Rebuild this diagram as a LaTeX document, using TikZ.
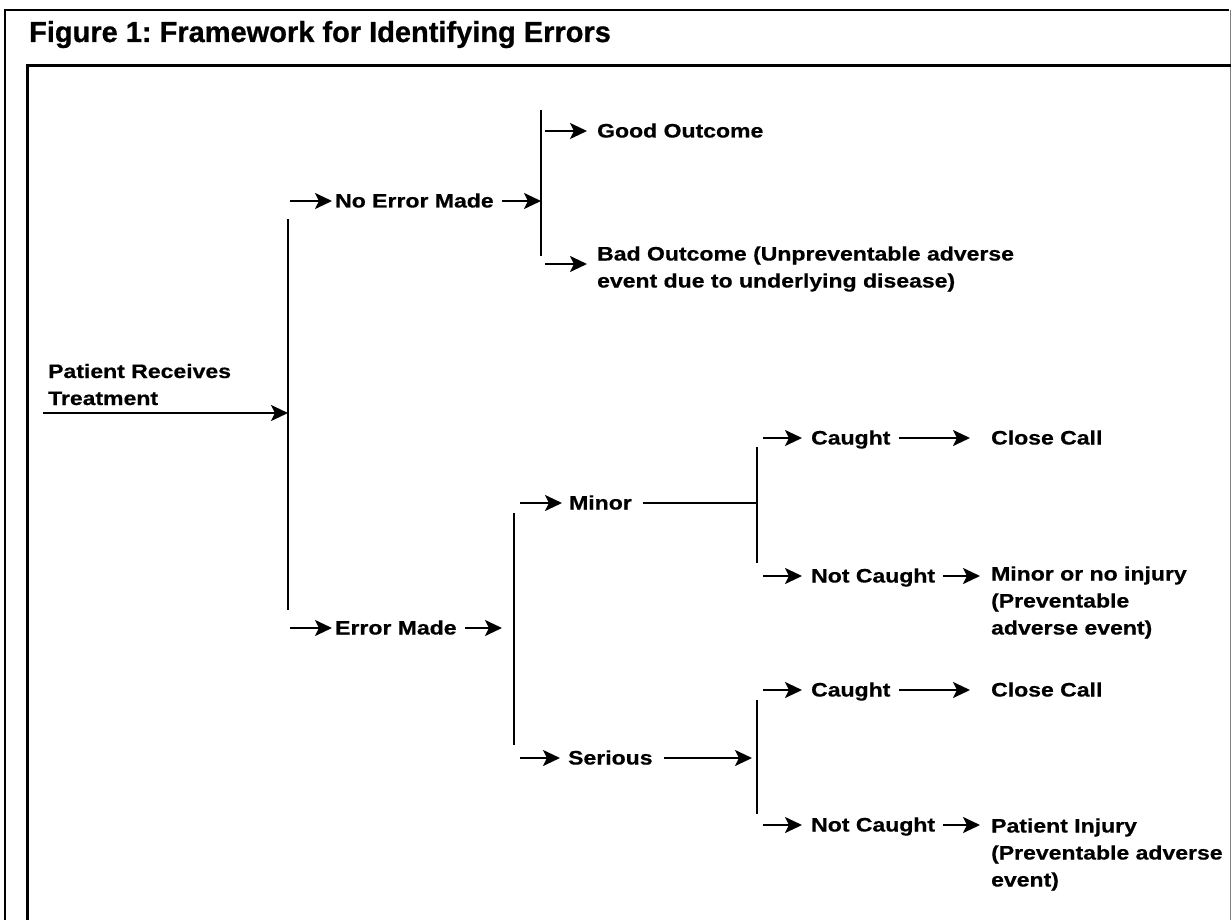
\documentclass[tikz,border=0pt]{standalone}
\usepackage{fontspec}
\setmainfont{Liberation Sans}
\newfontfamily\lblfont[FakeStretch=1.18,FakeBold=0.6]{Liberation Sans}
\newfontfamily\ttlfont[FakeBold=0.8]{Liberation Sans}
\usetikzlibrary{arrows.meta}
\newcommand\rows[1]{\begin{tabular}[t]{@{}l@{}}#1\end{tabular}}
\frenchspacing
\begin{document}
\begin{tikzpicture}[>={Stealth[length=17pt,width=16pt,inset=4pt]},x=1pt,y=-1pt,line width=2.3pt,
		lbl/.style={font=\lblfont\bfseries\fontsize{19.5}{27}\selectfont,inner sep=0pt,text height=13pt,text depth=0pt,anchor=west}]
		\useasboundingbox (0,0) rectangle (1231,920);
		\draw[line width=2.5pt] (5,930) -- (5,10) -- (1229,10);
		\draw[gray,line width=1pt] (1230,10) -- (1230,930);
		\draw[line width=3pt] (27,930) -- (27,65.5) -- (1240,65.5);
		\node[anchor=base west,inner sep=0pt,font=\ttlfont\bfseries\fontsize{29}{35}\selectfont] (title) at (28,42) {Figure 1: Framework for Identifying Errors};
		\coordinate (b1t) at (288,219); \coordinate (b1b) at (288,610);
		\coordinate (b2t) at (541,110); \coordinate (b2b) at (541,256);
		\coordinate (b3t) at (514,513); \coordinate (b3b) at (514,745);
		\coordinate (b4t) at (757,447); \coordinate (b4b) at (757,563);
		\coordinate (b5t) at (757,700); \coordinate (b5b) at (757,814);
		\draw (b1t)--(b1b) (b2t)--(b2b) (b3t)--(b3b) (b4t)--(b4b) (b5t)--(b5b);
		\node[lbl,anchor=base west] (root) at (47,378) {\rows{Patient Receives\\Treatment}};
		\coordinate (rootin) at (43,413);
		\draw[->] (rootin) -- (rootin -| b1t);
		\node[lbl] (noerr) at (334,201) {No Error Made};
		\draw[->,shorten <=2pt,shorten >=2pt] (noerr.west -| b1t) -- (noerr.west);
		\draw[->,shorten <=7pt] (noerr.east) -- (noerr.east -| b2t);
		\node[lbl] (good) at (596,131) {Good Outcome};
		\draw[->,shorten <=4pt,shorten >=9pt] (good.west -| b2t) -- (good.west);
		\node[lbl] (bad) at (596,254) {\rows{Bad Outcome (Unpreventable adverse\\event due to underlying disease)}};
		\coordinate (badin) at (541,264);
		\draw[->,shorten <=4pt,shorten >=9pt] (badin) -- (badin -| bad.west);
		\node[lbl] (err) at (334,628) {Error Made};
		\draw[->,shorten <=2pt,shorten >=2pt] (err.west -| b1b) -- (err.west);
		\draw[->,shorten <=7pt,shorten >=12pt] (err.east) -- (err.east -| b3t);
		\node[lbl] (minor) at (568,503) {Minor};
		\draw[->,shorten <=6pt,shorten >=6pt] (minor.west -| b3t) -- (minor.west);
		\draw[shorten <=10pt] (minor.east) -- (minor.east -| b4t);
		\node[lbl] (serious) at (567,758) {Serious};
		\draw[->,shorten <=6pt,shorten >=7pt] (serious.west -| b3b) -- (serious.west);
		\draw[->,shorten <=10pt,shorten >=5pt] (serious.east) -- (serious.east -| b5t);
		\node[lbl] (caught1) at (810,438) {Caught};
		\node[lbl] (close1) at (990,438) {Close Call};
		\draw[->,shorten <=6pt,shorten >=8pt] (caught1.west -| b4t) -- (caught1.west);
		\draw[->,shorten <=7pt,shorten >=20pt] (caught1.east) -- (close1.west);
		\node[lbl] (notc1) at (810,576) {Not Caught};
		\node[lbl] (minj) at (990,574) {\rows{Minor or no injury\\(Preventable\\adverse event)}};
		\draw[->,shorten <=6pt,shorten >=8pt] (notc1.west -| b4b) -- (notc1.west);
		\draw[->,shorten <=7pt,shorten >=10pt] (notc1.east) -- (notc1.east -| minj.west);
		\node[lbl] (caught2) at (810,690) {Caught};
		\node[lbl] (close2) at (990,690) {Close Call};
		\draw[->,shorten <=6pt,shorten >=8pt] (caught2.west -| b5t) -- (caught2.west);
		\draw[->,shorten <=7pt,shorten >=20pt] (caught2.east) -- (close2.west);
		\node[lbl] (notc2) at (810,825) {Not Caught};
		\node[lbl] (pinj) at (990,826) {\rows{Patient Injury\\(Preventable adverse\\event)}};
		\draw[->,shorten <=6pt,shorten >=8pt] (notc2.west -| b5b) -- (notc2.west);
		\draw[->,shorten <=7pt,shorten >=10pt] (notc2.east) -- (notc2.east -| pinj.west);
\end{tikzpicture}
\end{document}
